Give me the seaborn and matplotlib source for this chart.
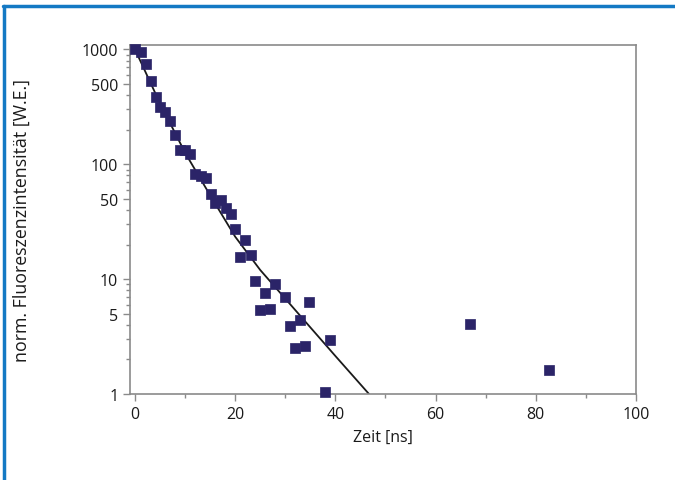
import numpy as np
import pandas as pd
import matplotlib
matplotlib.use("Agg")
import matplotlib.pyplot as plt
import matplotlib.ticker as mticker
from matplotlib.lines import Line2D
import seaborn as sns

# Messpunkte
zeit = [0.0, 1.1, 2.2, 3.1, 4.2, 5.0, 5.9, 7.0, 8.0, 9.0, 10.0, 11.0,
        12.0, 13.1, 14.2, 15.1, 16.0, 17.1, 18.1, 19.1, 20.0, 20.9, 22.0,
        23.1, 23.9, 25.0, 26.0, 26.9, 28.0, 30.0, 30.9, 32.0, 32.9, 34.0,
        34.8, 37.9, 38.9, 66.8, 82.7]
intensitaet = [1000, 948, 754, 536, 389, 316, 284, 240, 181, 132, 132, 123,
               82.5, 79.7, 75.7, 55.2, 46.1, 49, 41.5, 37, 27.4, 15.7, 22.1,
               16.2, 9.7, 5.4, 7.6, 5.5, 9.1, 7.0, 3.9, 2.5, 4.4, 2.6,
               6.3, 1.04, 2.97, 4.05, 1.62]

fit_zeit = [0, 5, 10, 15, 20, 25, 30, 35, 40, 46.7]
fit_int = [1000, 339, 126, 53.7, 23.4, 12.0, 6.76, 3.80, 2.14, 1.0]

ytick_werte = [1, 5, 10, 50, 100, 500, 1000]
xtick_werte = [0, 20, 40, 60, 80, 100]

df = pd.DataFrame({"zeit": zeit, "int": intensitaet})
fit = pd.DataFrame({"zeit": fit_zeit, "int": fit_int})

sns.set_style("ticks")
plt.rcParams["font.family"] = ["Open Sans", "DejaVu Sans"]

fig = plt.figure(figsize=(6.75, 4.81), dpi=100)
ax = fig.add_axes([0.1926, 0.179, 0.942 - 0.1926, 0.905 - 0.179])

sns.lineplot(data=fit, x="zeit", y="int", color="#1a1a1a", linewidth=1.3, ax=ax)
sns.scatterplot(data=df, x="zeit", y="int", marker="s", s=50, color="#2b2468",
                edgecolor="#2b2468", linewidth=0.5, ax=ax, zorder=3, clip_on=False)

ax.set_yscale("log")
ax.set_xlim(-1, 100)
ax.set_ylim(1, 1100)

ax.yaxis.set_major_locator(mticker.FixedLocator(ytick_werte))
ax.yaxis.set_major_formatter(mticker.FixedFormatter([str(v) for v in ytick_werte]))
ax.yaxis.set_minor_locator(mticker.LogLocator(base=10, subs=(2, 3, 4, 6, 7, 8, 9)))
ax.yaxis.set_minor_formatter(mticker.NullFormatter())
ax.xaxis.set_major_locator(mticker.FixedLocator(xtick_werte))
ax.xaxis.set_minor_locator(mticker.MultipleLocator(10))

for s in ax.spines.values():
    s.set_color("#8a8a8a")
    s.set_linewidth(1.2)

ax.tick_params(which="major", length=5, width=1, color="#8a8a8a", labelsize=11.5,
               labelcolor="#1a1a1a")
ax.tick_params(which="minor", length=3, width=1, color="#8a8a8a")

ax.set_xlabel("Zeit [ns]", fontsize=11.5, color="#1a1a1a")
ax.set_ylabel("norm. Fluoreszenzintensität [W.E.]", fontsize=12.8, color="#1a1a1a")
ax.xaxis.set_label_coords(0.5, -0.123)
ax.yaxis.set_label_coords(-0.213, 0.5)
ax.xaxis.label.set_va("center")
ax.yaxis.label.set_va("center")
if ax.get_legend():
    ax.get_legend().remove()

# blauer Rahmen oben und links
blau = "#1479c4"
fig.add_artist(Line2D([0.004, 1.0], [0.985, 0.985], color=blau, linewidth=2.5,
                      transform=fig.transFigure))
fig.add_artist(Line2D([0.006, 0.006], [0.0, 0.985], color=blau, linewidth=2.5,
                      transform=fig.transFigure))

fig.savefig("out.png", dpi=100)
